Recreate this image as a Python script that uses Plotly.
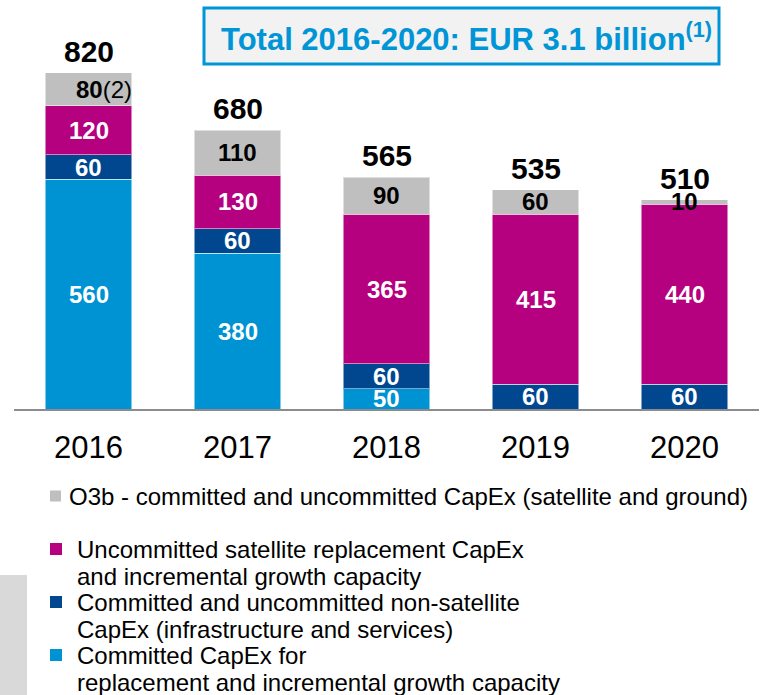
import plotly.graph_objects as go

# ---- data ----
years = ["2016", "2017", "2018", "2019", "2020"]
committed = [560, 380, 50, 0, 0]          # committed CapEx, replacement & growth
non_satellite = [60, 60, 60, 60, 60]      # infrastructure and services
uncommitted = [120, 130, 365, 415, 440]   # uncommitted replacement & growth
o3b = [80, 110, 90, 60, 10]               # O3b satellite and ground
totals = [820, 680, 565, 535, 510]
o3b_notes = ["(2)", "", "", "", ""]

title_text = "Total 2016-2020: EUR 3.1 billion"
title_note = "(1)"

name_o3b = "O3b - committed and uncommitted CapEx (satellite and ground)"
name_uncommitted = "Uncommitted satellite replacement CapEx<br>and incremental growth capacity"
name_non_sat = "Committed and uncommitted non-satellite<br>CapEx (infrastructure and services)"
name_committed = "Committed CapEx for<br>replacement and incremental growth capacity"

LIGHT_BLUE = "#0093d3"
DARK_BLUE = "#00478f"
MAGENTA = "#b5007f"
GREY = "#bfbfbf"
FONT = "Liberation Sans, Arial, sans-serif"

# page geometry (pixels)
W, H = 761, 695
L, R, T, B = 14, 2, 40, 286
PW, PH = W - L - R, H - T - B


def px(x):
    return (x - L) / PW


def py(y):
    return (H - B - y) / PH


series = [
    (name_committed, committed, LIGHT_BLUE, "white"),
    (name_non_sat, non_satellite, DARK_BLUE, "white"),
    (name_uncommitted, uncommitted, MAGENTA, "white"),
    (name_o3b, o3b, GREY, "black"),
]

fig = go.Figure()
for name, vals, col, _ in series:
    fig.add_trace(go.Bar(
        x=years, y=vals, name=name.replace("<br>", " "),
        marker=dict(color=col, line=dict(color="rgba(255,255,255,0.5)", width=1)),
        hoverinfo="skip",
    ))

annotations = []

# segment labels (x given as category index; numeric-looking strings
# would be read as plain numbers on the category axis)
base = [0] * len(years)
for si, (name, vals, col, tcol) in enumerate(series):
    for i, v in enumerate(vals):
        if v > 0:
            label = f"<b>{v}</b>"
            xs = 0
            if si == 3 and o3b_notes[i]:
                label += o3b_notes[i]
                xs = 15
            annotations.append(dict(
                x=i, y=base[i] + v / 2, text=label, showarrow=False,
                xshift=xs, yanchor="middle",
                font=dict(family=FONT, size=24, color=tcol),
            ))
        base[i] += v

# totals above bars
for i, tot in enumerate(totals):
    annotations.append(dict(
        x=i, y=tot, text=f"<b>{tot}</b>", showarrow=False,
        yanchor="bottom", yshift=3,
        font=dict(family=FONT, size=30, color="black"),
    ))

# headline box
annotations.append(dict(
    xref="paper", yref="paper", x=px(466), y=py(37),
    text=f"<b>{title_text}<sup>{title_note}</sup></b>", showarrow=False,
    xanchor="center", yanchor="middle",
    font=dict(family=FONT, size=31, color="#0095d6"),
))

# legend (drawn manually)
legend_rows = [
    (name_o3b, GREY, 496, 67, 11),
    (name_uncommitted, MAGENTA, 549, 75, 12),
    (name_non_sat, DARK_BLUE, 602, 75, 12),
    (name_committed, LIGHT_BLUE, 655, 75, 12),
]
shapes = []
for name, col, yc, xt, sz in legend_rows:
    shapes.append(dict(
        type="rect", xref="paper", yref="paper",
        x0=px(50), x1=px(50 + sz), y0=py(yc - sz / 2), y1=py(yc + sz / 2),
        fillcolor=col, line=dict(width=0),
    ))
    for k, line in enumerate(name.split("<br>")):
        annotations.append(dict(
            xref="paper", yref="paper", x=px(xt), y=py(yc + k * 27),
            text=line, showarrow=False, xanchor="left", yanchor="middle",
            font=dict(family=FONT, size=24, color="black"),
        ))

shapes.append(dict(
    type="rect", xref="paper", yref="paper",
    x0=px(204), x1=px(719), y0=py(8), y1=py(64),
    fillcolor="#f2f2f2", line=dict(color="#0095d6", width=3), layer="below",
))
shapes.append(dict(
    type="rect", xref="paper", yref="paper",
    x0=px(0), x1=px(27), y0=py(575), y1=py(H),
    fillcolor="#d9d9d9", line=dict(width=0),
))

fig.update_layout(
    width=W, height=H,
    margin=dict(l=L, r=R, t=T, b=B, autoexpand=False),
    barmode="stack", bargap=0.42,
    showlegend=False,
    plot_bgcolor="white", paper_bgcolor="white",
    font=dict(family=FONT),
    xaxis=dict(
        type="category", automargin=False, range=[-0.5, len(years) - 0.5],
        showline=True, linecolor="#8c8c8c", linewidth=2, ticks="",
        tickfont=dict(family=FONT, size=31, color="black"),
        ticklabelstandoff=10, showgrid=False, fixedrange=True,
    ),
    yaxis=dict(range=[0, 900], visible=False, showgrid=False, fixedrange=True,
               automargin=False),
    annotations=annotations,
    shapes=shapes,
)

fig.write_html("out.html", config={"displayModeBar": False},
               post_script="document.body.style.margin='0';")
